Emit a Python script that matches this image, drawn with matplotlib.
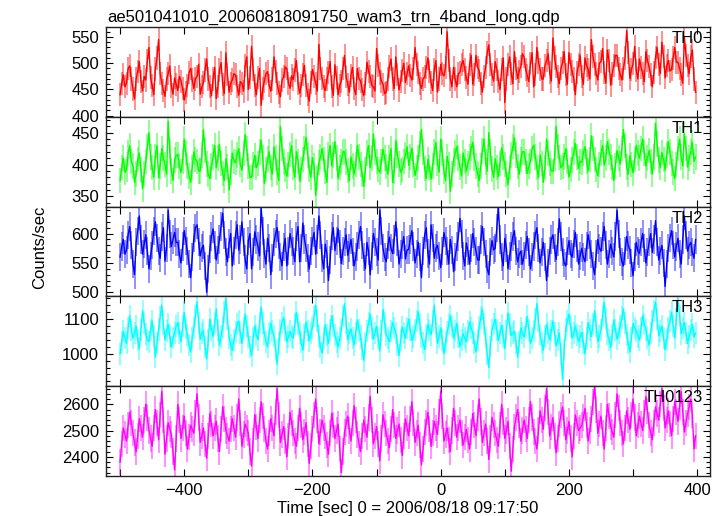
import numpy as np
import matplotlib
matplotlib.use("Agg")
import matplotlib.pyplot as plt
from matplotlib.ticker import MultipleLocator

plt.rcParams['font.family'] = ['Liberation Sans', 'DejaVu Sans']

titulo = 'ae501041010_20060818091750_wam3_trn_4band_long.qdp'
etiquetas = ['TH0', 'TH1', 'TH2', 'TH3', 'TH0123']
colores = ['#ff0000', '#00ff00', '#0000ff', '#00ffff', '#ff00ff']

t_inicio = -500.0   # s
dt = 2.5            # ancho del bin (s)

th0 = [440, 462, 478, 455, 462, 490, 495, 470, 451, 432, 470, 485, 503, 466, 447, 475, 468, 505,
       530, 472, 458, 440, 489, 510, 545, 480, 462, 448, 437, 470, 480, 495, 455, 441, 472, 460,
       448, 475, 466, 452, 430, 445, 458, 482, 490, 468, 452, 470, 475, 498, 441, 455, 463, 487,
       508, 470, 455, 438, 470, 492, 433, 455, 487, 501, 460, 442, 520, 478, 445, 462, 468, 480,
       478, 456, 439, 465, 462, 447, 495, 512, 450, 472, 532, 488, 458, 440, 472, 490, 420, 452,
       466, 480, 484, 458, 447, 470, 512, 485, 461, 445, 436, 468, 474, 493, 490, 462, 452, 476,
       469, 487, 505, 462, 443, 458, 478, 496, 458, 440, 428, 463, 488, 475, 462, 447, 536, 490,
       471, 455, 448, 470, 482, 503, 455, 439, 497, 472, 440, 458, 466, 490, 515, 474, 459, 445,
       477, 492, 452, 440, 490, 471, 466, 450, 438, 462, 502, 485, 474, 458, 455, 447, 528, 495,
       481, 466, 460, 442, 445, 470, 494, 508, 470, 452, 512, 478, 449, 465, 486, 500, 463, 480,
       495, 477, 468, 490, 530, 498, 482, 461, 452, 470, 474, 492, 510, 485, 463, 448, 488, 505,
       445, 470, 498, 480, 476, 492, 560, 505, 470, 455, 492, 470, 455, 480, 483, 498, 505, 488,
       472, 460, 498, 515, 460, 478, 515, 492, 486, 462, 445, 475, 492, 520, 535, 497, 478, 466,
       503, 488, 466, 450, 488, 510, 425, 470, 497, 512, 480, 461, 522, 490, 471, 485, 494, 518,
       512, 488, 476, 465, 499, 520, 455, 478, 530, 502, 488, 470, 470, 495, 505, 518, 482, 466,
       548, 510, 493, 475, 461, 490, 501, 522, 479, 460, 520, 498, 485, 470, 440, 482, 497, 515,
       475, 460, 510, 495, 488, 470, 545, 512, 497, 480, 468, 500, 503, 528, 482, 462, 525, 505,
       458, 480, 496, 515, 515, 490, 479, 468, 490, 510, 562, 520, 471, 488, 500, 532, 486, 470,
       508, 492, 480, 465, 522, 505, 493, 478, 455, 482, 511, 530, 498, 480, 540, 512, 472, 495,
       505, 485, 488, 510, 530, 502, 502, 490, 478, 462, 550, 515, 495, 480, 512, 525, 470, 445]

th1 = [375, 395, 410, 388, 392, 418, 430, 405, 398, 372, 385, 408, 418, 392, 362, 385, 405, 428,
       450, 412, 395, 380, 412, 430, 380, 398, 425, 410, 400, 385, 468, 420, 390, 375, 407, 415,
       415, 398, 388, 405, 440, 418, 398, 382, 372, 395, 420, 408, 405, 390, 390, 415, 455, 422,
       401, 385, 378, 398, 412, 430, 395, 410, 432, 402, 386, 375, 409, 396, 360, 388, 418, 405,
       403, 415, 425, 400, 391, 418, 447, 425, 398, 380, 380, 400, 414, 395, 402, 420, 438, 410,
       370, 392, 409, 420, 395, 385, 428, 410, 388, 375, 460, 425, 404, 392, 382, 400, 416, 430,
       396, 380, 420, 405, 374, 392, 408, 425, 443, 415, 392, 380, 411, 398, 352, 380, 403, 412,
       425, 408, 389, 372, 415, 430, 398, 415, 436, 410, 378, 395, 405, 420, 420, 404, 391, 375,
       412, 398, 385, 400, 430, 412, 400, 385, 366, 392, 418, 430, 395, 410, 448, 420, 405, 392,
       388, 405, 424, 410, 397, 385, 410, 425, 372, 390, 438, 415, 401, 388, 392, 405, 415, 428,
       399, 412, 426, 400, 383, 395, 410, 432, 455, 420, 394, 378, 408, 395, 377, 398, 420, 435,
       402, 388, 440, 418, 389, 375, 413, 400, 358, 385, 406, 418, 428, 410, 396, 382, 418, 405,
       390, 402, 412, 425, 435, 410, 398, 385, 375, 398, 421, 440, 404, 390, 450, 420, 393, 380,
       409, 395, 381, 402, 426, 412, 400, 385, 368, 395, 415, 428, 442, 415, 397, 385, 408, 420,
       420, 405, 386, 398, 405, 425, 430, 412, 395, 380, 415, 402, 372, 395, 440, 418, 402, 390,
       389, 410, 460, 428, 411, 395, 398, 412, 425, 405, 380, 392, 407, 420, 433, 412, 394, 405,
       404, 418, 428, 405, 390, 408, 445, 425, 408, 392, 383, 400, 418, 430, 399, 410, 436, 420,
       412, 395, 375, 398, 422, 410, 401, 425, 455, 430, 396, 385, 414, 400, 387, 408, 430, 418,
       410, 425, 440, 418, 398, 410, 422, 405, 385, 412, 465, 432, 407, 395, 419, 408, 392, 415,
       436, 420, 402, 388, 378, 400, 425, 440, 412, 398, 448, 425, 396, 410, 420, 435, 405, 412]

th2 = [560, 578, 590, 565, 572, 598, 612, 580, 548, 530, 585, 605, 630, 590, 565, 582, 598, 570,
       540, 562, 580, 605, 620, 592, 570, 558, 595, 610, 553, 575, 640, 600, 578, 590, 602, 585,
       585, 565, 550, 578, 605, 588, 570, 548, 525, 560, 592, 610, 615, 585, 562, 575, 580, 545,
       500, 540, 574, 595, 608, 580, 555, 572, 590, 612, 635, 598, 568, 552, 583, 600, 545, 570,
       598, 615, 572, 590, 620, 585, 556, 540, 588, 600, 540, 568, 603, 590, 578, 562, 644, 605,
       566, 548, 592, 575, 530, 558, 585, 600, 610, 580, 560, 545, 577, 592, 545, 570, 600, 585,
       570, 552, 595, 612, 552, 575, 618, 590, 575, 558, 540, 570, 588, 602, 565, 590, 630, 598,
       558, 540, 582, 565, 520, 555, 596, 610, 571, 588, 608, 582, 549, 570, 585, 598, 563, 575,
       590, 568, 545, 560, 578, 598, 612, 580, 560, 540, 585, 570, 530, 562, 600, 585, 568, 555,
       640, 605, 575, 560, 552, 580, 594, 575, 566, 590, 620, 585, 548, 565, 580, 595, 557, 572,
       573, 590, 605, 578, 550, 565, 585, 560, 525, 570, 598, 610, 566, 548, 615, 592, 558, 575,
       580, 562, 542, 570, 602, 588, 570, 548, 590, 572, 535, 560, 578, 595, 626, 600, 562, 545,
       584, 570, 548, 575, 600, 585, 570, 555, 555, 590, 612, 585, 565, 540, 530, 568, 588, 572,
       575, 610, 645, 590, 560, 545, 592, 575, 540, 562, 578, 595, 605, 570, 552, 565, 570, 548,
       562, 580, 595, 568, 540, 560, 578, 598, 610, 575, 550, 568, 585, 560, 520, 550, 570, 590,
       598, 575, 556, 585, 625, 595, 568, 550, 545, 570, 588, 565, 560, 582, 602, 575, 548, 562,
       575, 560, 552, 578, 598, 580, 565, 545, 530, 565, 590, 575, 570, 595, 612, 580, 548, 565,
       582, 570, 560, 595, 640, 600, 568, 552, 545, 570, 595, 580, 572, 550, 528, 560, 585, 570,
       566, 585, 600, 575, 550, 568, 585, 600, 568, 590, 622, 585, 555, 570, 580, 550, 510, 548,
       575, 592, 605, 580, 560, 578, 592, 565, 548, 590, 630, 598, 570, 580, 585, 568, 558, 590]

th3 = [1000, 1035, 1065, 1045, 1030, 1075, 1110, 1070, 1045, 1060, 1080, 1040, 1015, 1070, 1125, 1090, 1058, 1040,
       1035, 1070, 1095, 1050, 990, 1030, 1070, 1105, 1140, 1085, 1040, 1065, 1085, 1050, 1020, 1045, 1060, 1080,
       1090, 1060, 1035, 1080, 1120, 1075, 1055, 1025, 1005, 1045, 1075, 1110, 1150, 1090, 1042, 1060, 1068, 1020,
       985, 1040, 1100, 1070, 1050, 1090, 1130, 1070, 1025, 1050, 1078, 1120, 1160, 1100, 1045, 1025, 1010, 1040,
       1062, 1085, 1095, 1060, 1030, 1075, 1115, 1080, 1048, 1020, 995, 1045, 1080, 1055, 1040, 1090, 1135, 1090,
       1058, 1035, 1020, 1060, 1088, 1065, 1052, 1010, 970, 1030, 1070, 1090, 1105, 1070, 1035, 1050, 1065, 1050,
       1045, 1085, 1120, 1085, 1060, 1035, 1010, 1055, 1092, 1065, 1038, 1060, 1075, 1110, 1140, 1095, 1050, 1020,
       1002, 1045, 1085, 1055, 1030, 1070, 1110, 1080, 1055, 1035, 1020, 1045, 1068, 1110, 1145, 1090, 1040, 1060,
       1072, 1045, 1025, 1060, 1098, 1070, 1050, 1015, 980, 1030, 1065, 1090, 1115, 1075, 1042, 1060, 1080, 1045,
       1008, 1065, 1128, 1090, 1055, 1045, 1035, 1065, 1090, 1075, 1060, 1025, 995, 1040, 1078, 1060, 1045, 1075,
       1100, 1070, 1038, 1050, 1070, 1095, 1122, 1085, 1048, 1030, 1012, 1050, 1085, 1070, 1055, 1095, 1140, 1080,
       1030, 1050, 1075, 1040, 1000, 1035, 1062, 1085, 1110, 1080, 1045, 1065, 1088, 1050, 1020, 1040, 1058, 1045,
       1035, 1065, 1092, 1075, 1060, 1030, 1005, 1040, 1078, 1105, 1130, 1085, 1045, 1000, 960, 1020, 1070, 1085,
       1100, 1070, 1038, 1060, 1082, 1050, 1015, 1065, 1118, 1085, 1052, 1060, 1065, 1030, 990, 1035, 1075, 1060,
       1048, 1075, 1108, 1070, 1030, 1045, 1066, 1100, 1145, 1095, 1055, 1030, 1010, 1050, 1085, 1060, 1040, 1065,
       1095, 1060, 1022, 1040, 1060, 1000, 925, 1010, 1072, 1095, 1115, 1080, 1045, 1060, 1080, 1055, 1035, 1050,
       1062, 1030, 1000, 1045, 1090, 1070, 1050, 1085, 1125, 1080, 1035, 1050, 1070, 1110, 1150, 1100, 1058, 1040,
       1018, 1055, 1098, 1070, 1042, 1060, 1080, 1105, 1130, 1090, 1055, 1030, 1005, 1045, 1088, 1075, 1065, 1050,
       1040, 1075, 1110, 1085, 1068, 1045, 1025, 1060, 1095, 1125, 1150, 1100, 1052, 1065, 1080, 1045, 1012, 1040,
       1075, 1095, 1120, 1080, 1045, 1100, 1160, 1110, 1058, 1075, 1090, 1060, 1030, 1050, 1070, 1085, 1048, 1060]

th0123 = [2380, 2450, 2510, 2485, 2460, 2520, 2570, 2530, 2490, 2455, 2420, 2480, 2545, 2510, 2475, 2540, 2600, 2550,
          2500, 2470, 2440, 2510, 2580, 2530, 2465, 2560, 2650, 2540, 2410, 2470, 2530, 2505, 2485, 2420, 2350, 2470,
          2600, 2540, 2470, 2510, 2555, 2490, 2430, 2475, 2520, 2505, 2490, 2565, 2640, 2550, 2455, 2480, 2510, 2450,
          2395, 2480, 2565, 2525, 2480, 2510, 2535, 2470, 2420, 2505, 2590, 2545, 2500, 2480, 2460, 2505, 2545, 2510,
          2475, 2550, 2620, 2530, 2440, 2485, 2525, 2510, 2490, 2420, 2365, 2460, 2560, 2515, 2470, 2540, 2610, 2555,
          2505, 2460, 2430, 2490, 2545, 2510, 2480, 2570, 2660, 2560, 2455, 2485, 2515, 2460, 2400, 2480, 2570, 2530,
          2490, 2460, 2440, 2510, 2585, 2520, 2465, 2495, 2530, 2450, 2375, 2440, 2505, 2560, 2620, 2540, 2450, 2495,
          2540, 2510, 2480, 2445, 2410, 2490, 2565, 2520, 2470, 2500, 2525, 2430, 2340, 2420, 2495, 2525, 2555, 2500,
          2460, 2530, 2595, 2540, 2485, 2450, 2420, 2480, 2540, 2505, 2475, 2550, 2630, 2540, 2450, 2480, 2515, 2450,
          2385, 2470, 2560, 2525, 2490, 2460, 2435, 2505, 2580, 2520, 2470, 2500, 2525, 2465, 2405, 2480, 2545, 2510,
          2480, 2545, 2610, 2530, 2455, 2490, 2520, 2445, 2370, 2430, 2495, 2530, 2570, 2505, 2440, 2490, 2535, 2510,
          2485, 2570, 2650, 2555, 2460, 2485, 2510, 2465, 2420, 2500, 2585, 2530, 2475, 2510, 2540, 2490, 2445, 2475,
          2505, 2465, 2430, 2495, 2565, 2520, 2480, 2550, 2620, 2535, 2455, 2490, 2525, 2460, 2390, 2470, 2550, 2520,
          2490, 2465, 2440, 2520, 2600, 2535, 2470, 2500, 2535, 2440, 2345, 2430, 2515, 2550, 2580, 2520, 2460, 2500,
          2540, 2505, 2470, 2540, 2610, 2550, 2495, 2460, 2430, 2500, 2575, 2540, 2505, 2585, 2660, 2570, 2480, 2515,
          2550, 2480, 2415, 2470, 2525, 2560, 2590, 2530, 2465, 2500, 2535, 2470, 2400, 2480, 2560, 2530, 2500, 2510,
          2520, 2550, 2585, 2520, 2460, 2500, 2545, 2610, 2670, 2580, 2490, 2525, 2555, 2490, 2430, 2510, 2600, 2555,
          2515, 2495, 2475, 2560, 2640, 2585, 2530, 2490, 2450, 2510, 2575, 2540, 2505, 2560, 2620, 2550, 2480, 2520,
          2555, 2525, 2500, 2565, 2630, 2575, 2520, 2490, 2465, 2530, 2590, 2565, 2540, 2600, 2660, 2585, 2510, 2540,
          2575, 2525, 2480, 2545, 2610, 2570, 2535, 2590, 2650, 2570, 2495, 2530, 2565, 2590, 2620, 2560, 2430, 2480]

series = [th0, th1, th2, th3, th0123]
errores = [22, 20, 24, 32, 50]  # error tipico por bin

limites_y = [(398, 569), (334, 475), (493, 646), (906, 1166), (2327, 2669)]
paso_mayor = [50, 50, 50, 100, 100]
paso_menor = [10, 10, 10, 20, 20]

fig, axes = plt.subplots(5, 1, sharex=True, figsize=(7.22, 5.16), dpi=100)
fig.subplots_adjust(left=0.1468, right=0.9834, top=0.9477, bottom=0.0775, hspace=0)

for ax, y, err, col, lab, lim, pM, pm in zip(axes, series, errores, colores, etiquetas,
                                             limites_y, paso_mayor, paso_menor):
    tiempo = t_inicio + dt * np.arange(len(y))
    ax.errorbar(tiempo, y, yerr=err, fmt='none', ecolor=col, alpha=0.55, elinewidth=1.1)
    ax.plot(tiempo, y, color=col, lw=1.0)
    ax.set_ylim(*lim)
    ax.set_xlim(-522, 420)
    ax.yaxis.set_major_locator(MultipleLocator(pM))
    ax.yaxis.set_minor_locator(MultipleLocator(pm))
    ax.xaxis.set_major_locator(MultipleLocator(200))
    ax.xaxis.set_minor_locator(MultipleLocator(100))
    ax.tick_params(which='both', direction='in', top=True, right=True, labelsize=12, width=0.8)
    ax.tick_params(which='major', length=5, pad=5)
    ax.tick_params(which='minor', length=3)
    ax.tick_params(axis='x', which='minor', length=5)
    for s in ax.spines.values():
        s.set_linewidth(1.0)
        s.set_color('#222222')
    ax.text(0.988, 0.955, lab, transform=ax.transAxes, ha='right', va='top', fontsize=12)

axes[-1].set_xlabel('Time [sec] 0 = 2006/08/18 09:17:50', fontsize=12, labelpad=2)
fig.text(0.055, 0.52, 'Counts/sec', rotation=90, ha='center', va='center', fontsize=12)
fig.text(0.148, 1 - 22 / 516, titulo, ha='left', va='baseline', fontsize=12)

plt.savefig('out.png', dpi=100)
